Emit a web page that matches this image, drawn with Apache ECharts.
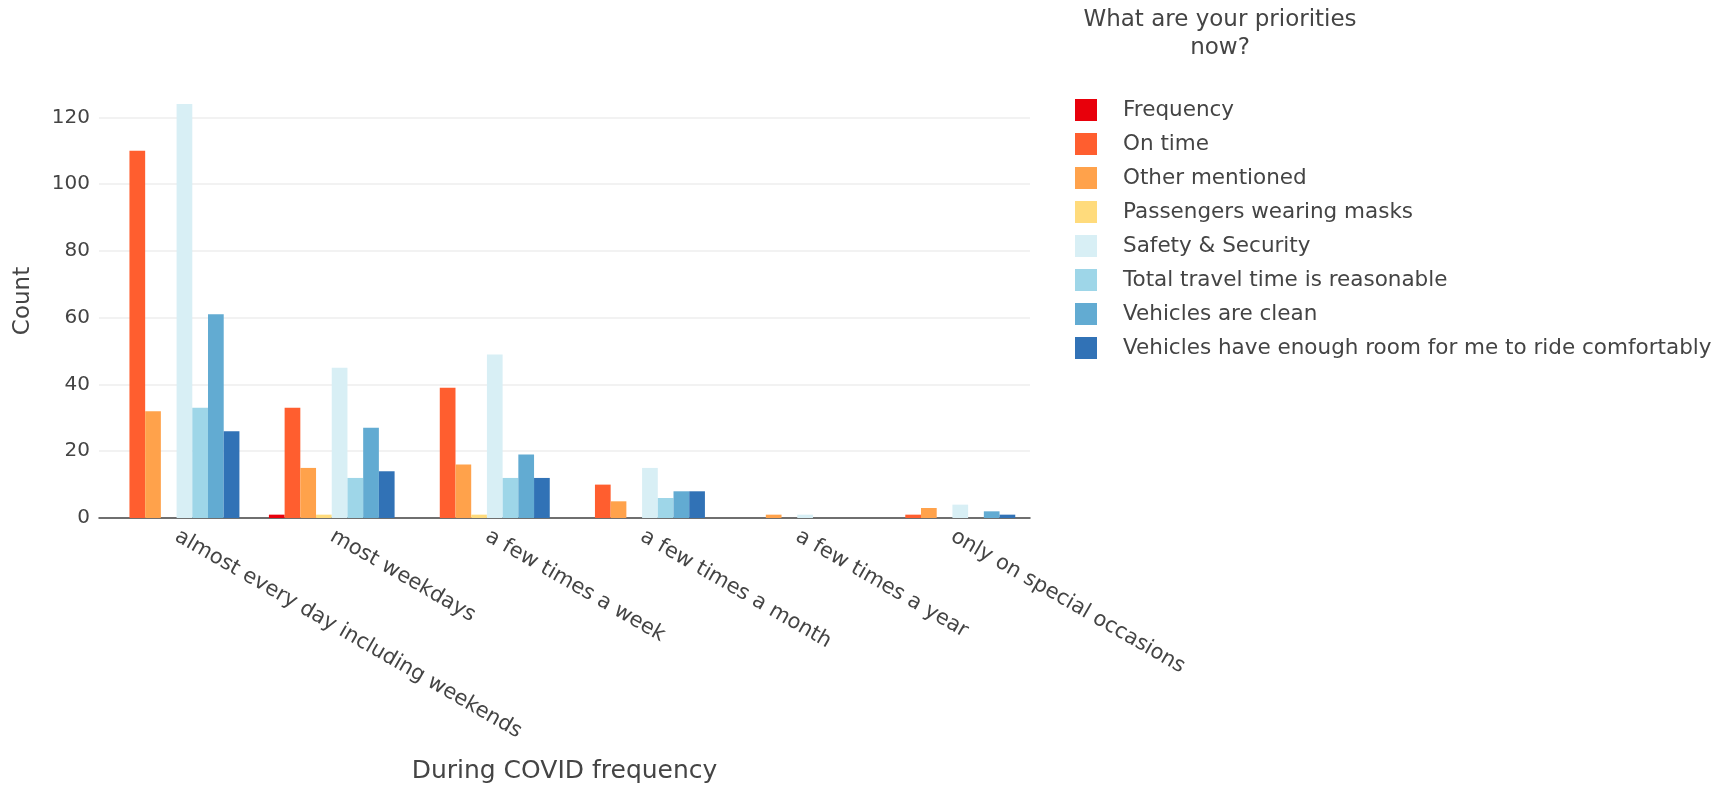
<!DOCTYPE html>
<html>
<head>
<meta charset="utf-8">
<script src="https://cdn.jsdelivr.net/npm/echarts@6/dist/echarts.min.js"></script>
<style>html,body{margin:0;padding:0;background:#fff}#c{width:1727px;height:789px}</style>
</head>
<body>
<div id="c"></div>
<script>
const categories = ["almost every day including weekends","most weekdays","a few times a week","a few times a month","a few times a year","only on special occasions"];
const seriesNames = ["Frequency","On time","Other mentioned","Passengers wearing masks","Safety & Security","Total travel time is reasonable","Vehicles are clean","Vehicles have enough room for me to ride comfortably"];
const frequency = [0, 1, 0, 0, 0, 0];
const onTime = [110, 33, 39, 10, 0, 1];
const otherMentioned = [32, 15, 16, 5, 1, 3];
const passengersMasks = [0, 1, 1, 0, 0, 0];
const safetySecurity = [124, 45, 49, 15, 1, 4];
const totalTravelTime = [33, 12, 12, 6, 0, 0];
const vehiclesClean = [61, 27, 19, 8, 0, 2];
const vehiclesRoom = [26, 14, 12, 8, 0, 1];
const colors = ["#E8000B","#FF5E2F","#FFA24B","#FFDB7C","#D8EFF5","#9ED6E8","#62ABD2","#3172B6"];
const allData = [frequency,onTime,otherMentioned,passengersMasks,safetySecurity,totalTravelTime,vehiclesClean,vehiclesRoom];

const font = '"DejaVu Sans", Verdana, sans-serif';
const chart = echarts.init(document.getElementById('c'));
chart.setOption({
  animation: false,
  textStyle: {fontFamily: font},
  title: {
    text: 'What are your priorities\nnow?',
    left: 1215, top: 1, textAlign: 'center',
    textStyle: {fontFamily: font, fontSize: 23, fontWeight: 'normal', color: '#444', lineHeight: 28}
  },
  legend: {
    orient: 'vertical', left: 1070, top: 94,
    itemWidth: 22, itemHeight: 22, itemGap: 12,
    icon: 'rect',
    textStyle: {fontFamily: font, fontSize: 21.5, color: '#444', padding: [0,0,0,21]},
    data: seriesNames
  },
  grid: {left: 99, right: 697, top: 84, bottom: 248},
  xAxis: {
    type: 'category', data: categories,
    name: 'During COVID frequency', nameLocation: 'middle', nameGap: 241,
    nameTextStyle: {fontFamily: font, fontSize: 25, color: '#444'},
    axisLine: {lineStyle: {color: '#444', width: 1.5}},
    axisTick: {show: false},
    axisLabel: {rotate: -30, fontSize: 21, color: '#444', margin: 17, interval: 0, fontFamily: font}
  },
  yAxis: {
    type: 'value', min: 0, max: 130, interval: 20,
    name: 'Count', nameLocation: 'middle', nameGap: 64, nameRotate: 90,
    nameTextStyle: {fontFamily: font, fontSize: 23, color: '#444'},
    axisLine: {show: false}, axisTick: {show: false},
    axisLabel: {fontSize: 20, color: '#444', margin: 9, fontFamily: font, showMaxLabel: false,
      formatter: v => (v % 20 === 0 ? String(v) : '')},
    splitLine: {showMaxLine: false, lineStyle: {color: '#eee', width: 1.5}}
  },
  series: seriesNames.map((n, i) => ({
    name: n, type: 'bar', data: allData[i],
    barGap: '0%', barCategoryGap: '19%',
    itemStyle: {color: colors[i]}
  }))
});
</script>
</body>
</html>
